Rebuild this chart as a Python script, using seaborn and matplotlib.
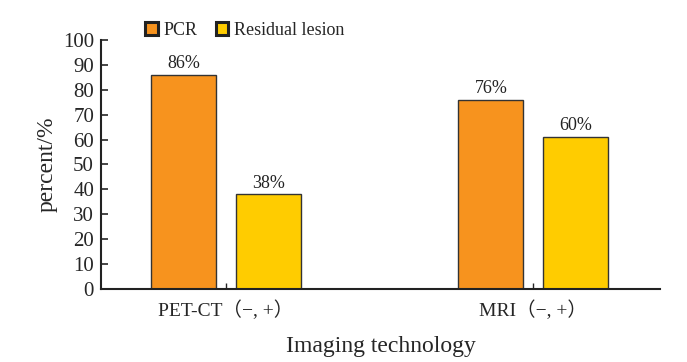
import pandas as pd
import matplotlib.pyplot as plt
import seaborn as sns

categories = ["PET-CT（−, +）", "MRI（−, +）"]
series = ["PCR", "Residual lesion"]
pcr_values = [86, 76]
residual_values = [38, 61]
pcr_labels = ["86%", "76%"]
residual_labels = ["38%", "60%"]
palette = ["#F7931E", "#FFCC00"]

df = pd.DataFrame({
    "tech": categories * 2,
    "group": [series[0]] * 2 + [series[1]] * 2,
    "value": pcr_values + residual_values,
})

sns.set_style("ticks")
plt.rcParams["font.family"] = ["Liberation Serif", "Noto Sans CJK SC"]

fig = plt.figure(figsize=(6.87, 3.62), dpi=100)
ax = fig.add_axes([0.147, 0.2017, 0.814, 0.6878])

sns.barplot(data=df, x="tech", y="value", hue="group", palette=palette,
            width=0.55, gap=0.23, edgecolor="#333333", linewidth=1.0,
            saturation=1, ax=ax)

for cont, labs in zip(ax.containers, [pcr_labels, residual_labels]):
    ax.bar_label(cont, labels=labs, padding=2, fontsize=13, color="#222222")

ax.set_ylim(0, 100)
ax.set_yticks(range(0, 101, 10))
ax.set_xlim(-0.407, 1.414)
ax.set_xlabel("Imaging technology", fontsize=17, labelpad=12)
ax.set_ylabel("percent/%", fontsize=17, labelpad=4)
ax.tick_params(axis="y", direction="in", length=5, labelsize=15, width=1.2, pad=5)
ax.tick_params(axis="x", direction="in", length=4, labelsize=14, width=1.0, pad=8)
sns.despine(ax=ax, top=True, right=True)
for sp in ["left", "bottom"]:
    ax.spines[sp].set_linewidth(1.5)
    ax.spines[sp].set_color("#222222")

ax.legend(loc="lower left", bbox_to_anchor=(0.065, 0.972), ncol=2, frameon=False,
          fontsize=13, handlelength=0.7, handleheight=0.7, handletextpad=0.3,
          columnspacing=1.0, borderaxespad=0.05)
for h in ax.get_legend().legend_handles:
    h.set_edgecolor("#222222")
    h.set_linewidth(2.2)

fig.savefig("out.png", dpi=100)
